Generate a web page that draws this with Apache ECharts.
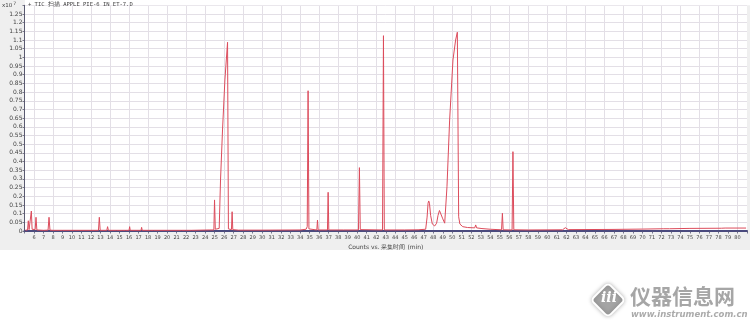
<!DOCTYPE html>
<html><head><meta charset="utf-8">
<script src="https://cdn.jsdelivr.net/npm/echarts@6/dist/echarts.min.js"></script>
<style>html,body{margin:0;padding:0;background:#fff}#c{width:750px;height:336px}</style>
</head><body><div id="c"></div>
<script>
// Acquisition time (min)
const retentionTimes = [
  5.10,5.32,5.40,5.48,5.64,5.72,5.80,6.12,6.21,6.30,7.00,7.48,7.58,7.68,8.00,8.10,8.20,9.00,9.10,9.20,
  10.30,10.40,10.50,12.78,12.87,12.96,13.66,13.74,13.82,14.70,14.76,14.82,15.35,15.40,15.45,15.62,15.67,15.72,
  16.00,16.06,16.12,17.26,17.32,17.38,18.22,18.27,18.32,18.56,18.61,18.66,21.50,21.70,21.90,22.58,22.64,22.70,
  24.50,24.92,24.99,25.07,25.25,25.48,25.62,25.83,26.08,26.36,26.45,26.60,26.77,26.84,26.91,27.50,30.00,
  34.00,34.62,34.74,34.83,34.92,35.10,35.75,35.82,35.89,36.87,36.94,37.01,38.53,38.60,38.67,40.13,40.23,40.32,
  42.66,42.76,42.85,45.00,46.40,46.50,46.60,47.20,47.35,47.45,47.52,47.60,47.72,47.90,48.15,48.35,48.50,48.65,
  48.75,48.85,49.00,49.20,49.31,49.44,49.72,50.07,50.35,50.53,50.67,50.80,51.10,51.60,52.36,52.46,52.56,
  53.12,53.20,53.28,54.00,55.18,55.27,55.35,56.29,56.38,56.47,58.00,61.60,61.89,62.20,66.80,66.90,67.00,
  70.00,72.25,72.30,72.40,72.85,72.90,73.00,75.00,78.30,78.50,78.70,80.90
];
// TIC counts (x10^7)
const ticCounts = [
  0.005,0.006,0.059,0.008,0.008,0.115,0.010,0.008,0.079,0.006,0.004,0.005,0.079,0.005,0.004,0.011,0.004,0.004,0.007,0.004,
  0.004,0.012,0.004,0.004,0.079,0.004,0.004,0.025,0.004,0.004,0.012,0.004,0.004,0.010,0.004,0.004,0.010,0.004,
  0.004,0.025,0.004,0.004,0.021,0.004,0.004,0.013,0.004,0.004,0.013,0.004,0.004,0.008,0.004,0.004,0.014,0.004,
  0.006,0.006,0.179,0.010,0.012,0.015,0.294,0.582,0.870,1.087,0.012,0.008,0.008,0.111,0.008,0.005,0.005,
  0.006,0.010,0.025,0.808,0.012,0.006,0.006,0.063,0.006,0.006,0.223,0.006,0.006,0.015,0.006,0.006,0.365,0.008,
  0.006,1.125,0.006,0.006,0.007,0.012,0.007,0.010,0.080,0.160,0.173,0.160,0.090,0.040,0.029,0.045,0.090,0.118,
  0.121,0.110,0.070,0.045,0.044,0.255,0.639,0.985,1.100,1.145,0.082,0.040,0.025,0.020,0.018,0.035,0.018,
  0.014,0.021,0.013,0.010,0.007,0.102,0.007,0.006,0.457,0.007,0.006,0.007,0.019,0.008,0.009,0.013,0.009,
  0.011,0.013,0.016,0.013,0.013,0.016,0.014,0.015,0.016,0.025,0.017,0.017
];
const xRange = [5, 81];          // minutes
const xLabelRange = [6, 80];     // labelled ticks
const yRange = [0, 1.3];
const yLabelMax = 1.25;
const titleText = '+ TIC 扫描 APPLE PIE-6 IN ET-7.D';
const xAxisTitle = 'Counts vs. 采集时间 (min)';

const seriesData = retentionTimes.map((t, i) => [t, ticCounts[i]]);

const chart = echarts.init(document.getElementById('c'), null, {renderer: 'canvas'});
chart.setOption({
  animation: false,
  backgroundColor: '#ffffff',
  grid: {left: 24.5, right: 2.4, top: 5.3, bottom: 105, show: true, backgroundColor: '#ffffff', borderWidth: 0},
  xAxis: {
    type: 'value', min: xRange[0], max: xRange[1], interval: 1,
    name: xAxisTitle, nameLocation: 'middle', nameGap: 13,
    nameTextStyle: {fontSize: 6, color: '#444', fontFamily: 'DejaVu Sans'},
    axisLine: {show: true, onZero: false, lineStyle: {color: '#4a4a7e', width: 2}},
    axisTick: {show: true, length: 2.5, lineStyle: {color: '#555577', width: 0.8}},
    axisLabel: {fontSize: 5, color: '#444', margin: 4, fontFamily: 'DejaVu Sans',
      formatter: v => (v < xLabelRange[0] || v > xLabelRange[1]) ? '' : String(v)},
    splitLine: {show: true, lineStyle: {color: ['transparent', '#e3dfe6'], width: 1}}
  },
  yAxis: {
    type: 'value', min: yRange[0], max: yRange[1], interval: 0.05,
    axisLine: {show: true, lineStyle: {color: '#5a5a70', width: 1}},
    axisTick: {show: true, length: 2, lineStyle: {color: '#5a5a70', width: 0.8}},
    axisLabel: {fontSize: 6, color: '#444', margin: 2, fontFamily: 'DejaVu Sans',
      formatter: v => v > yLabelMax + 0.001 ? '' : String(+v.toFixed(2))},
    splitLine: {show: true, lineStyle: {color: '#e3dfe6', width: 1}}
  },
  series: [{
    type: 'line', data: seriesData, showSymbol: false, symbol: 'none',
    lineStyle: {color: '#dc4c5c', width: 1}, z: 5
  }],
  graphic: [
    {type: 'rect', z: -10, silent: true, shape: {x: 0, y: 0, width: 750, height: 250}, style: {fill: '#efefef'}},
    {type: 'rect', z: 1, silent: true, shape: {x: 25, y: 0, width: 725, height: 5.3}, style: {fill: '#ffffff'}},
    {type: 'text', z: 10, left: 2, top: 1, style: {text: '{a|x10}{b|7}', rich: {
      a: {fontSize: 5.5, fill: '#444', fontFamily: 'DejaVu Sans', verticalAlign: 'bottom'},
      b: {fontSize: 4.5, fill: '#444', fontFamily: 'DejaVu Sans', verticalAlign: 'top', padding: [0, 0, 3, 1]}}}},
    {type: 'text', z: 10, left: 28, top: 2, style: {text: titleText, fontSize: 5.5, fill: '#444', fontFamily: 'DejaVu Sans Mono'}},
    // watermark
    {type: 'rect', z: 20, x: 608, y: 300, rotation: Math.PI / 4,
      shape: {x: -12, y: -12, width: 24, height: 24, r: 4},
      style: {fill: '#a4a4a4', stroke: '#ffffff', lineWidth: 2, shadowBlur: 4, shadowColor: 'rgba(0,0,0,0.25)'}},
    {type: 'text', z: 21, x: 601, y: 291, style: {text: 'iii', fontSize: 14, fontWeight: 'bold', fontStyle: 'italic',
      fill: '#ffffff', fontFamily: 'DejaVu Serif'}},
    {type: 'text', z: 20, x: 630, y: 286, style: {text: '仪器信息网', fontSize: 21, fontWeight: 'bold',
      fontFamily: 'Noto Sans CJK SC', fill: '#a6a6a6', stroke: '#ffffff', lineWidth: 1,
      shadowBlur: 3, shadowColor: 'rgba(0,0,0,0.25)'}},
    {type: 'text', z: 20, x: 631, y: 310, style: {text: 'www.instrument.com.cn', fontSize: 8.5, fontWeight: 'bold',
      fontStyle: 'italic', fontFamily: 'DejaVu Sans', fill: '#ababab', shadowBlur: 2, shadowColor: 'rgba(0,0,0,0.2)'}}
  ]
});
</script>
</body></html>
